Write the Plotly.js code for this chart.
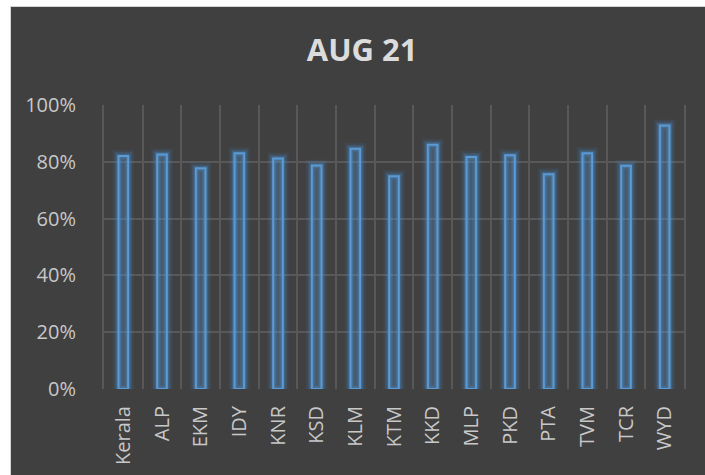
<!DOCTYPE html>
<html>
<head>
<meta charset="utf-8">
<script src="https://cdn.plot.ly/plotly-3.0.1.min.js"></script>
<style>
html,body{margin:0;padding:0;background:#ffffff;width:705px;height:475px;overflow:hidden;}
#wrap{position:absolute;left:10px;top:6px;width:695px;height:469px;box-sizing:border-box;border-left:1px solid #d4d4d4;border-top:1px solid #d4d4d4;background:#404040;}
#chart{width:694px;height:468px;}
</style>
</head>
<body>
<div id="wrap"><div id="chart"></div></div>
<script>
const categories = ["Kerala","ALP","EKM","IDY","KNR","KSD","KLM","KTM","KKD","MLP","PKD","PTA","TVM","TCR","WYD"];
const values = [0.820,0.826,0.777,0.830,0.812,0.787,0.846,0.749,0.860,0.817,0.823,0.756,0.830,0.786,0.928];
const yTicks = [0,0.2,0.4,0.6,0.8,1.0];
const yTickLabels = ["0%","20%","40%","60%","80%","100%"];

const glow1 = {type:'bar', x:categories, y:values, width:0.25, hoverinfo:'skip',
  marker:{color:'rgba(0,0,0,0)', line:{color:'rgba(70,140,210,0.10)', width:12}}};
const glow2 = {type:'bar', x:categories, y:values, width:0.25, hoverinfo:'skip',
  marker:{color:'rgba(0,0,0,0)', line:{color:'rgba(70,140,210,0.16)', width:8}}};
const glow3 = {type:'bar', x:categories, y:values, width:0.25, hoverinfo:'skip',
  marker:{color:'rgba(0,0,0,0)', line:{color:'rgba(80,150,220,0.25)', width:5}}};
const main = {type:'bar', x:categories, y:values, width:0.25,
  marker:{color:'rgba(91,155,213,0.22)', line:{color:'#5b9bd5', width:2}}};

const layout = {
  width:694, height:468,
  paper_bgcolor:'#404040', plot_bgcolor:'#404040',
  margin:{l:93, r:21, t:98, b:86},
  showlegend:false, barmode:'overlay',
  title:{text:'<b>AUG 21</b>', x:0.506, xanchor:'center', y:0.908, yanchor:'middle', yref:'container',
    font:{family:'Open Sans', size:31, color:'#dcdcdc'}},
  xaxis:{type:'category', tickson:'boundaries', showgrid:true, gridcolor:'#585858', gridwidth:2,
    ticks:'', tickangle:-90, ticklabelstandoff:12, showline:false, zeroline:false,
    tickfont:{family:'Open Sans', size:20, color:'#c8c8c8'}, range:[-0.5,14.5]},
  yaxis:{range:[0,1], tickvals:yTicks, ticktext:yTickLabels, showgrid:true, gridcolor:'#585858', gridwidth:2,
    zeroline:false, showline:true, mirror:true, linecolor:'#585858', linewidth:2, ticks:'', ticklabelstandoff:22,
    tickfont:{family:'Open Sans', size:20, color:'#c8c8c8'}}
};
Plotly.newPlot('chart', [glow1, glow2, glow3, main], layout, {staticPlot:true, displayModeBar:false});
</script>
</body>
</html>
